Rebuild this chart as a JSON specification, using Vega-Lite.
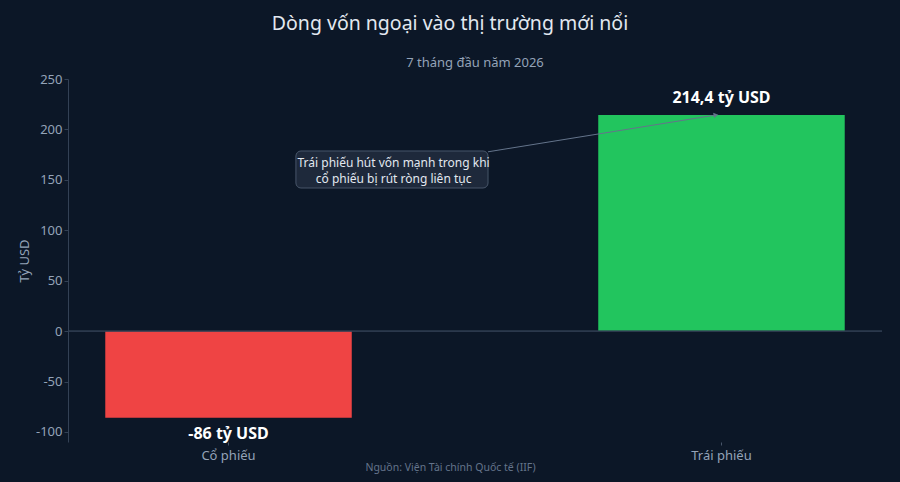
{
  "$schema": "https://vega.github.io/schema/vega-lite/v6.json",
  "autosize": {"type": "none"},
  "width": 814,
  "height": 363,
  "padding": {"left": 68, "top": 79, "right": 18, "bottom": 40},
  "background": "#0c1727",
  "title": {
    "text": "Dòng vốn ngoại vào thị trường mới nổi",
    "anchor": "middle",
    "dx": -25,
    "color": "#e2e8f0",
    "fontSize": 19.5,
    "fontWeight": "normal",
    "offset": 23
  },
  "datasets": {
    "flows": [
      {"loai": "Cổ phiếu", "value": -86, "label": "-86 tỷ USD"},
      {"loai": "Trái phiếu", "value": 214.4, "label": "214,4 tỷ USD"}
    ],
    "note": [
      {"x": 0.28, "x2": 0.516, "y": 141.9, "y2": 178.6, "tx": 0.4, "ty": 167, "text": "Trái phiếu hút vốn mạnh trong khi\ncổ phiếu bị rút ròng liên tục"}
    ],
    "sub": [
      {"x": 0.5, "y": 265.8, "text": "7 tháng đầu năm 2026"}
    ],
    "arrow": [
      {"x": 0.516, "y": 177.8, "step": 0},
      {"x": 0.796, "y": 214.3, "step": 1}
    ]
  },
  "resolve": {"scale": {"x": "independent"}},
  "layer": [
    {
      "data": {"name": "flows"},
      "layer": [
        {
          "mark": {"type": "bar"},
          "encoding": {
            "x": {
              "field": "loai",
              "type": "nominal",
              "sort": null,
              "scale": {"paddingInner": 0.5, "paddingOuter": 0.0756},
              "axis": {
                "labelAngle": 0,
                "labelFontSize": 13,
                "labelColor": "#94a3b8",
                "tickColor": "#475569",
                "tickSize": 3,
                "labelPadding": 4,
                "domain": false,
                "title": "Nguồn: Viện Tài chính Quốc tế (IIF)",
                "titleFontSize": 10.5,
                "titleFontWeight": "normal",
                "titleColor": "#64748b",
                "titleX": 382,
                "titlePadding": 0
              }
            },
            "y": {
              "field": "value",
              "type": "quantitative",
              "scale": {"domain": [-110, 250], "nice": false},
              "axis": {
                "values": [-100, -50, 0, 50, 100, 150, 200, 250],
                "labelExpr": "'' + datum.value",
                "grid": false,
                "domainColor": "#334155",
                "tickColor": "#334155",
                "tickSize": 4,
                "labelFontSize": 13,
                "labelColor": "#94a3b8",
                "title": "Tỷ USD",
                "titleFontSize": 13,
                "titleFontWeight": "normal",
                "titleColor": "#94a3b8",
                "titlePadding": 4
              }
            },
            "color": {
              "field": "loai",
              "type": "nominal",
              "scale": {"domain": ["Cổ phiếu", "Trái phiếu"], "range": ["#ef4444", "#22c55e"]},
              "legend": null
            }
          }
        },
        {
          "mark": {"type": "rule", "color": "#334155", "strokeWidth": 1},
          "encoding": {"y": {"datum": 0}}
        },
        {
          "transform": [{"filter": "datum.value >= 0"}],
          "mark": {"type": "text", "dy": -17, "fontSize": 16, "fontWeight": "bold", "color": "#ffffff"},
          "encoding": {
            "x": {"field": "loai", "type": "nominal", "sort": null},
            "y": {"field": "value", "type": "quantitative"},
            "text": {"field": "label"}
          }
        },
        {
          "transform": [{"filter": "datum.value < 0"}],
          "mark": {"type": "text", "dy": 16, "fontSize": 16, "fontWeight": "bold", "color": "#ffffff"},
          "encoding": {
            "x": {"field": "loai", "type": "nominal", "sort": null},
            "y": {"field": "value", "type": "quantitative"},
            "text": {"field": "label"}
          }
        }
      ]
    },
    {
      "layer": [
        {
          "data": {"name": "arrow"},
          "mark": {"type": "line", "color": "#64748b", "strokeWidth": 1},
          "encoding": {
            "x": {"field": "x", "type": "quantitative", "scale": {"domain": [0, 1], "nice": false, "zero": false}, "axis": null},
            "y": {"field": "y", "type": "quantitative"},
            "order": {"field": "step"}
          }
        },
        {
          "data": {"name": "arrow"},
          "transform": [{"filter": "datum.step == 1"}],
          "mark": {"type": "point", "shape": "triangle-right", "filled": true, "color": "#64748b", "size": 30, "angle": 351, "opacity": 1},
          "encoding": {
            "x": {"field": "x", "type": "quantitative"},
            "y": {"field": "y", "type": "quantitative"}
          }
        },
        {
          "data": {"name": "note"},
          "mark": {"type": "rect", "fill": "#1e293b", "stroke": "#475569", "strokeWidth": 1, "cornerRadius": 5},
          "encoding": {
            "x": {"field": "x", "type": "quantitative"},
            "x2": {"field": "x2"},
            "y": {"field": "y", "type": "quantitative"},
            "y2": {"field": "y2"}
          }
        },
        {
          "data": {"name": "note"},
          "mark": {"type": "text", "fontSize": 12, "color": "#e2e8f0", "lineBreak": "\n", "lineHeight": 16, "baseline": "middle"},
          "encoding": {
            "x": {"field": "tx", "type": "quantitative"},
            "y": {"field": "ty", "type": "quantitative"},
            "text": {"field": "text"}
          }
        },
        {
          "data": {"name": "sub"},
          "mark": {"type": "text", "fontSize": 13, "color": "#94a3b8", "baseline": "middle", "clip": false},
          "encoding": {
            "x": {"field": "x", "type": "quantitative"},
            "y": {"field": "y", "type": "quantitative"},
            "text": {"field": "text"}
          }
        }
      ]
    }
  ],
  "config": {
    "font": "Noto Sans",
    "view": {"stroke": null}
  }
}
